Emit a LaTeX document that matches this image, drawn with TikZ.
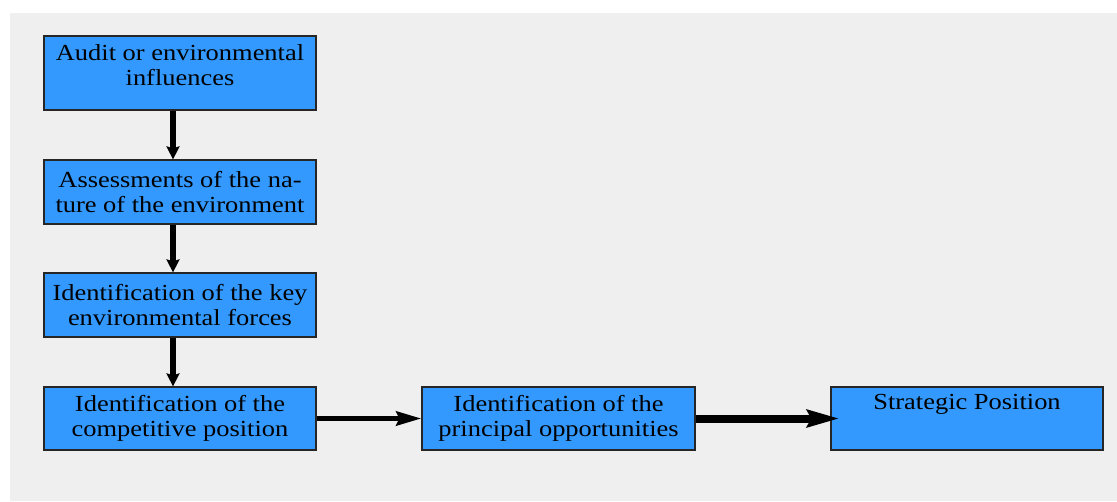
\documentclass[tikz,border=0pt]{standalone}
\usepackage{fontspec}
\setmainfont{Liberation Serif}[FakeStretch=1.15]
\usepackage{xcolor}
\usetikzlibrary{arrows.meta}
\definecolor{boxblue}{HTML}{3399FF}
\definecolor{panelgray}{HTML}{EFEFEF}

\begin{document}
\begin{tikzpicture}[x=1pt, y=-1pt,
    stagebox/.style={draw=black!85, line width=1.2pt, fill=boxblue, align=center,
        minimum width=272pt, minimum height=64pt, inner sep=0pt,
        font=\fontsize{23}{25}\selectfont},
    flow/.style={line width=5.5pt, -{Stealth[length=13pt, width=13pt, inset=2pt]}}]
    \useasboundingbox (0,0) rectangle (1117,501);
    \fill[panelgray] (10,13) rectangle (1117,501);
    \node[stagebox, minimum height=74pt] (audit) at (180,73) {Audit or environmental\\influences\\[-9pt]\mbox{}};
    \node[stagebox] (assess) at (180,192) {Assessments of the na-\\ture of the environment};
    \node[stagebox] (forces) at (180,305) {Identification of the key\\environmental forces};
    \node[stagebox, minimum height=63pt] (compet) at (180,418.5) {Identification of the\\competitive position};
    \node[stagebox, minimum height=63pt, minimum width=273pt] (opport) at (558.5,418.5) {Identification of the\\principal opportunities};
    \node[stagebox, minimum height=63pt] (strat) at (967,418.5) {Strategic Position\\\strut};
    \draw[flow] ([xshift=-7pt]audit.south) -- ([xshift=-7pt]assess.north);
    \draw[flow] ([xshift=-7pt]assess.south) -- ([xshift=-7pt]forces.north);
    \draw[flow] ([xshift=-7pt]forces.south) -- ([xshift=-7pt]compet.north);
    \draw[flow, line width=5pt, -{Stealth[length=25pt, width=14pt, inset=3pt]}] (compet) -- (opport);
    \draw[flow, line width=8pt, shorten >=-9pt, -{Stealth[length=32pt, width=17pt, inset=4pt]}] (opport) -- (strat);
\end{tikzpicture}
\end{document}
